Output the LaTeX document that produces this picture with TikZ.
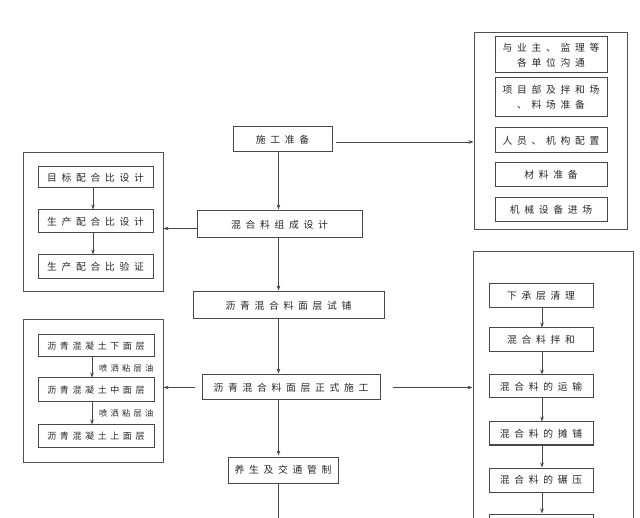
\documentclass[tikz,border=0pt]{standalone}
\usepackage{fontspec}
\newfontfamily\cjk[LetterSpace=48]{Noto Sans CJK SC}
\newfontfamily\cjkn[LetterSpace=40]{Noto Sans CJK SC}
\usetikzlibrary{arrows.meta}
\tikzset{
  box/.style={draw=black!72, line width=1pt, inner sep=0pt, align=center,
    font=\cjk\fontsize{9.8}{15}\selectfont, text=black!85},
  sbox/.style={box, font=\cjkn\fontsize{9}{12}\selectfont},
  group/.style={draw=black!68, line width=1pt, inner sep=0pt},
  arr/.style={draw=black!72, line width=0.8pt, -{Stealth[length=5pt,width=3.6pt]}},
  note/.style={inner sep=0pt, anchor=west, text=black!85, font=\cjkn\fontsize{8.2}{10}\selectfont},
}
\begin{document}
\begin{tikzpicture}[x=1pt,y=-1pt]
\useasboundingbox (0,0) rectangle (640,518);
\clip (0,0) rectangle (640,518);
% spine
\coordinate (spine) at (278.5,0);
% centre column
\node[box, minimum width=99pt, minimum height=25pt] (prep) at (282.5,139.5) {施工准备};
\node[box, minimum width=165pt, minimum height=27pt] (mix) at (279.5,224.5) {混合料组成设计};
\node[box, minimum width=191pt, minimum height=27pt] (trial) at (288.5,305.5) {沥青混合料面层试铺};
\node[box, minimum width=178pt, minimum height=25pt] (formal) at (291,387.5) {沥青混合料面层正式施工};
\node[box, minimum width=110pt, minimum height=26pt] (cure) at (283,470) {养生及交通管制};
\coordinate (bottom) at (278.5,530);
% right top group
\node[group, minimum width=153pt, minimum height=197pt] (rt) at (550.5,131.5) {};
\node[box, minimum width=112pt, minimum height=36pt] (r1) at (551,55) {与业主、监理等\\各单位沟通};
\node[box, minimum width=112pt, minimum height=39pt] (r2) at (551,97.5) {项目部及拌和场\\、料场准备};
\node[box, minimum width=112pt, minimum height=25pt] (r3) at (551,140.5) {人员、机构配置};
\node[box, minimum width=112pt, minimum height=24pt] (r4) at (551,175) {材料准备};
\node[box, minimum width=112pt, minimum height=24pt] (r5) at (551,210) {机械设备进场};
% left top group
\node[group, minimum width=140pt, minimum height=139pt] (lt) at (93,222.5) {};
\node[box, minimum width=115pt, minimum height=21pt] (l1) at (95.5,177.5) {目标配合比设计};
\node[box, minimum width=115pt, minimum height=23pt] (l2) at (95.5,221.5) {生产配合比设计};
\node[box, minimum width=115pt, minimum height=24pt] (l3) at (95.5,267) {生产配合比验证};
% left bottom group
\node[group, minimum width=140pt, minimum height=142pt] (lb) at (93,391) {};
\node[sbox, minimum width=116pt, minimum height=22pt] (b1) at (96,346) {沥青混凝土下面层};
\node[sbox, minimum width=116pt, minimum height=24pt] (b2) at (96,390) {沥青混凝土中面层};
\node[sbox, minimum width=116pt, minimum height=22pt] (b3) at (96,436) {沥青混凝土上面层};
\node[note] (n1) at (99,368) {喷洒粘层油};
\node[note] (n2) at (99,413) {喷洒粘层油};
% right bottom group
\node[group, minimum width=160pt, minimum height=300pt] (rb) at (553,402) {};
\node[box, minimum width=104pt, minimum height=24pt] (s1) at (541,296) {下承层清理};
\node[box, minimum width=104pt, minimum height=24pt] (s2) at (541,340) {混合料拌和};
\node[box, minimum width=104pt, minimum height=23pt] (s3) at (541,386.5) {混合料的运输};
\node[box, minimum width=104pt, minimum height=23pt] (s4) at (541,433.5) {混合料的摊铺};
\node[box, minimum width=104pt, minimum height=24pt] (s5) at (541,480) {混合料的碾压};
\node[box, minimum width=104pt, minimum height=24pt] (s6) at (541,526) {};
% spine arrows
\draw[arr, shorten >=1pt] (prep.south -| spine) -- (mix.north -| spine);
\draw[arr, shorten >=1pt] (mix.south -| spine) -- (trial.north -| spine);
\draw[arr, shorten >=1pt] (trial.south -| spine) -- (formal.north -| spine);
\draw[arr, shorten >=1pt] (formal.south -| spine) -- (cure.north -| spine);
\draw[draw=black!72, line width=0.8pt] (cure.south -| spine) -- (bottom);
% side arrows
\draw[arr, shorten <=3pt] ([yshift=-2.5pt]prep.east) -- ([yshift=-2.5pt]prep.east -| rt.west);
\draw[arr] ([yshift=-4pt]mix.west) -- ([yshift=-4pt]mix.west -| lt.east);
\draw[arr, shorten <=7pt] (formal.west) -- (formal.west -| lb.east);
\draw[arr, shorten <=12pt] (formal.east) -- (formal.east -| rb.west);
% inner arrows
\draw[arr] (l1.south -| 93,0) -- (l2.north -| 93,0);
\draw[arr] (l2.south -| 93,0) -- (l3.north -| 93,0);
\draw[arr] (b1.south -| 92,0) -- (b2.north -| 92,0);
\draw[arr] (b2.south -| 92,0) -- (b3.north -| 92,0);
\draw[arr] (s1.south -| 542,0) -- (s2.north -| 542,0);
\draw[arr] (s2.south -| 542,0) -- (s3.north -| 542,0);
\draw[arr] (s3.south -| 542,0) -- (s4.north -| 542,0);
\draw[arr] (s4.south -| 542,0) -- (s5.north -| 542,0);
\draw[arr] (s5.south -| 542,0) -- (s6.north -| 542,0);
\end{tikzpicture}
\end{document}
